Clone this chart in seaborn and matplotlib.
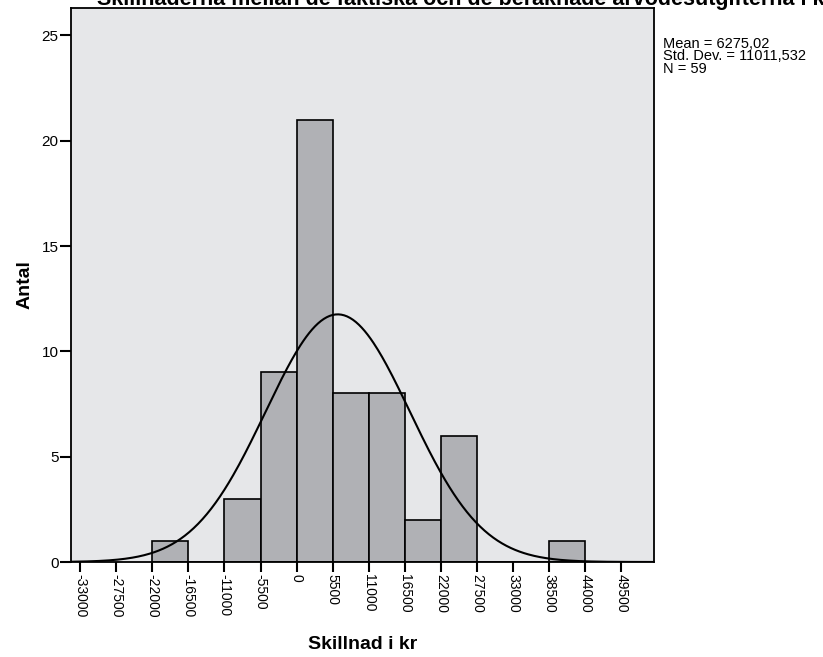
import numpy as np
import matplotlib
matplotlib.use("Agg")
import matplotlib.pyplot as plt
import seaborn as sns

# histogram data (bin width 5500)
bin_edges = [-22000, -16500, -11000, -5500, 0, 5500, 11000, 16500,
             22000, 27500, 33000, 38500, 44000]
counts = [1, 0, 3, 9, 21, 8, 8, 2, 6, 0, 0, 1]
x_ticks = [-33000, -27500, -22000, -16500, -11000, -5500, 0, 5500,
           11000, 16500, 22000, 27500, 33000, 38500, 44000, 49500]
y_ticks = [0, 5, 10, 15, 20, 25]

mean = 6275.02
std_dev = 11011.532
n_obs = 59
bin_width = 5500

title = "Skillnaderna mellan de faktiska och de beräknade arvodesutgifterna i kr"
stats_lines = ["Mean = 6275,02", "Std. Dev. = 11011,532", "N = 59"]

sns.set_style("ticks", {"axes.facecolor": "#E6E7E9", "axes.edgecolor": "black",
                        "text.color": "black", "xtick.color": "black",
                        "ytick.color": "black", "axes.labelcolor": "black"})
plt.rcParams["font.family"] = ["Liberation Sans", "DejaVu Sans"]

fig = plt.figure(figsize=(8.23, 6.57), dpi=100)
ax = fig.add_axes([71 / 823, 1 - 562 / 657, (654 - 71) / 823, (562 - 8) / 657])

centers = [(a + b) / 2 for a, b in zip(bin_edges[:-1], bin_edges[1:])]
sns.histplot(x=centers, weights=counts, bins=bin_edges, color="#B0B1B5",
             edgecolor="black", linewidth=1.2, alpha=1, ax=ax)

# fitted normal curve scaled to counts
xlim = (-34400, 54500)
xs = np.linspace(xlim[0], xlim[1], 400)
ys = n_obs * bin_width / (std_dev * np.sqrt(2 * np.pi)) * np.exp(-0.5 * ((xs - mean) / std_dev) ** 2)
sns.lineplot(x=xs, y=ys, color="black", linewidth=1.5, ax=ax)

ax.set_xlim(*xlim)
ax.set_ylim(0, 26.3)
ax.set_xticks(x_ticks)
ax.set_xticklabels([str(t) for t in x_ticks], rotation=270, fontsize=10)
ax.set_yticks(y_ticks)
ax.set_yticklabels([str(t) for t in y_ticks], fontsize=11)
ax.tick_params(axis="x", length=7, width=1.5, pad=2)
ax.tick_params(axis="y", length=8, width=1.5, pad=1)
for s in ax.spines.values():
    s.set_linewidth(1.3)
    s.set_visible(True)

ax.set_xlabel("Skillnad i kr", fontsize=14, fontweight="bold", labelpad=13)
ax.set_ylabel("Antal", fontsize=14, fontweight="bold", labelpad=6)

fig.text(97 / 823, 1 - 5 / 657, title, fontsize=15.5, fontweight="bold", va="baseline")

for i, line in enumerate(stats_lines):
    fig.text(663 / 823, 1 - (48 + 12.5 * i) / 657, line, fontsize=10.5, va="baseline")

fig.savefig("out.png", dpi=100)
